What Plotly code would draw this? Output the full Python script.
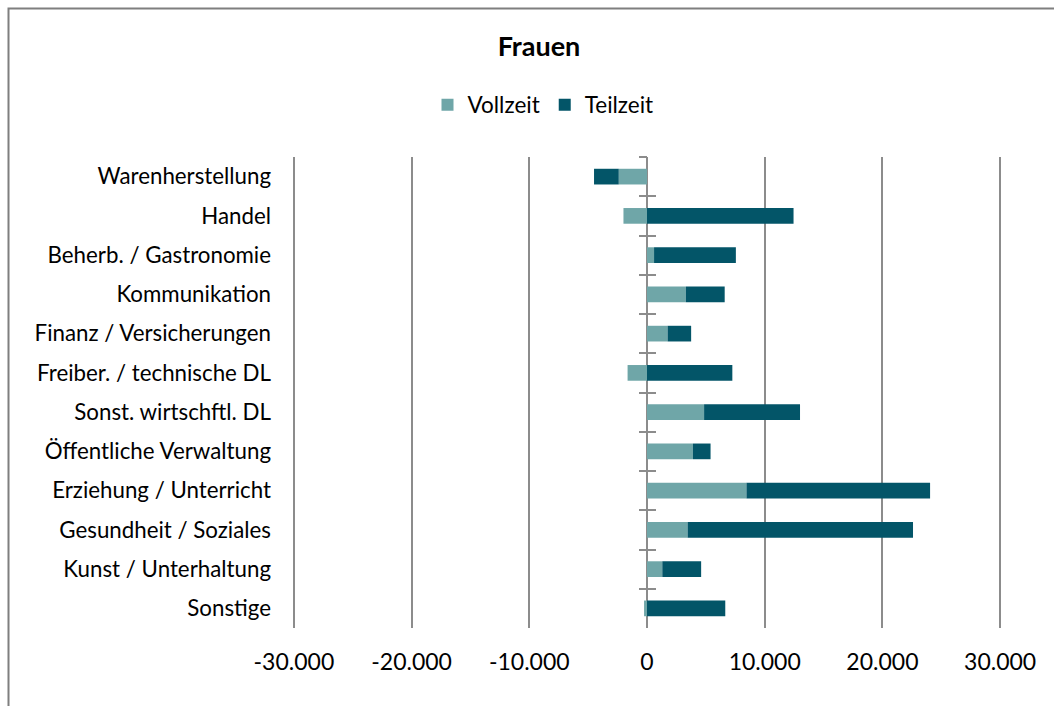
import plotly.graph_objects as go

# Beschäftigungsveränderung Frauen nach Wirtschaftszweig
categories = [
    "Warenherstellung",
    "Handel",
    "Beherb. / Gastronomie",
    "Kommunikation",
    "Finanz / Versicherungen",
    "Freiber. / technische DL",
    "Sonst. wirtschftl. DL",
    "Öffentliche Verwaltung",
    "Erziehung / Unterricht",
    "Gesundheit / Soziales",
    "Kunst / Unterhaltung",
    "Sonstige",
]
vollzeit = [-2400, -2000, 600, 3300, 1750, -1650, 4850, 3900, 8450, 3450, 1300, -250]
teilzeit = [-2100, 12450, 6950, 3300, 2000, 7250, 8150, 1500, 15600, 19150, 3300, 6650]

x_tickvals = [-30000, -20000, -10000, 0, 10000, 20000, 30000]
x_ticktext = ["-30.000", "-20.000", "-10.000", "0", "10.000", "20.000", "30.000"]

FONT = "Lato"
C_VOLL = "#6fa6a8"
C_TEIL = "#035568"
GRID = "#8c8c8c"

# plot area geometry (pixels)
W, H = 1054, 706
L, R, T, B = 288, 48, 157, 78
PW, PH = W - L - R, H - T - B

fig = go.Figure()
fig.add_trace(go.Bar(y=categories, x=vollzeit, orientation="h", name="Vollzeit",
                     marker=dict(color=C_VOLL, line=dict(width=0))))
fig.add_trace(go.Bar(y=categories, x=teilzeit, orientation="h", name="Teilzeit",
                     marker=dict(color=C_TEIL, line=dict(width=0))))

# transparent copies carry the category ticks drawn on the zero line
for axis in ("y2", "y3"):
    fig.add_trace(go.Bar(y=categories, x=teilzeit, orientation="h", yaxis=axis,
                         marker=dict(color="rgba(0,0,0,0)", line=dict(width=0)),
                         showlegend=False, hoverinfo="skip"))

n = len(categories)
tick_axis = dict(
    overlaying="y", anchor="free", position=0.5, side="left",
    type="category", categoryorder="array", categoryarray=categories,
    range=[n - 0.5, -0.5], tickson="boundaries",
    showticklabels=False, showgrid=False, zeroline=False, showline=False,
    ticklen=8, tickwidth=2, tickcolor=GRID,
)

fig.update_layout(
    width=W, height=H,
    margin=dict(l=L, r=R, t=T, b=B),
    paper_bgcolor="white", plot_bgcolor="white",
    barmode="relative", bargap=0.6,
    font=dict(family=FONT, size=22.3, color="#000000"),
    title=dict(text="<b>Frauen</b>", x=539 / W, xanchor="center",
               y=1 - 47 / H, yanchor="middle",
               font=dict(family=FONT, size=27, color="#000000")),
    legend=dict(orientation="h", x=(543 - L) / PW, xanchor="center",
                y=(H - B - 105) / PH, yanchor="middle",
                font=dict(family=FONT, size=22.5), itemwidth=30, tracegroupgap=0,
                traceorder="normal"),
    xaxis=dict(range=[-30500, 30500], tickvals=x_tickvals, ticktext=x_ticktext,
               tickfont=dict(size=23),
               showgrid=True, gridcolor=GRID, gridwidth=2,
               zeroline=True, zerolinecolor=GRID, zerolinewidth=2,
               showline=False, ticks="", ticklabelstandoff=18,
               fixedrange=True),
    yaxis=dict(type="category", categoryorder="array", categoryarray=categories,
               range=[n - 0.5, -0.5], showgrid=False, zeroline=False, showline=False,
               ticks="", ticklabelstandoff=16),
    yaxis2=dict(ticks="outside", **tick_axis),
    yaxis3=dict(ticks="inside", **tick_axis),
    shapes=[dict(type="rect", xref="paper", yref="paper",
                 x0=(8.5 - L) / PW, x1=(1070 - L) / PW,
                 y0=(H - B - 720) / PH, y1=(H - B - 8.5) / PH,
                 line=dict(color="#7f7f7f", width=2), fillcolor="rgba(0,0,0,0)",
                 layer="below")],
)

fig.write_html("out.html")
